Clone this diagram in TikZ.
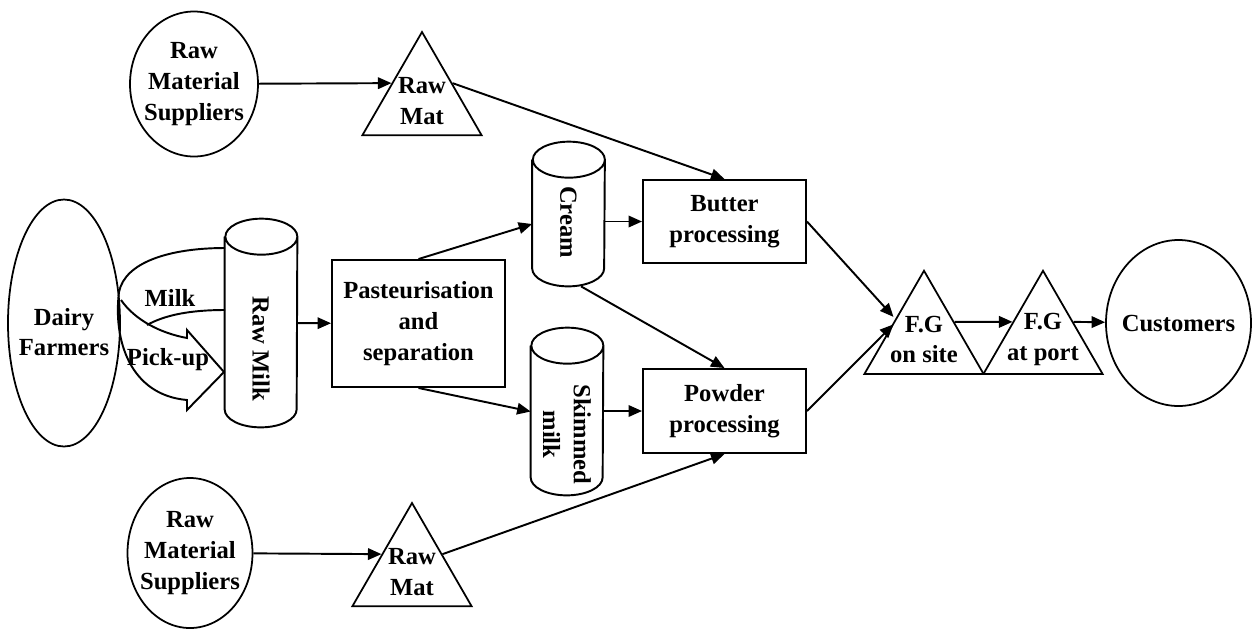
\documentclass[tikz,border=0pt]{standalone}
\usepackage{fontspec}
\setmainfont{Liberation Serif}
\usetikzlibrary{arrows.meta,shapes.geometric,calc}
\tikzset{
  >={Triangle[length=2.7mm,width=2.3mm]},
  lbl/.style={font=\fontsize{14}{17.5}\selectfont\bfseries, align=center, inner sep=0pt},
  party/.style={ellipse,draw,line width=1pt,inner sep=0pt},
  stock/.style={regular polygon,regular polygon sides=3,draw,line width=1pt,inner sep=0pt,minimum size=2.75cm},
  tank/.style={rectangle,inner sep=0pt,minimum width=1.44cm},
  proc/.style={rectangle,draw,line width=1.1pt,lbl},
  tr/.style={->, line width=1.1pt},
  ln/.style={line width=1.1pt}
}
\newcommand{\caprad}{0.36cm}

\begin{document}
\begin{tikzpicture}
    \useasboundingbox (0,0) rectangle (25.08,-12.6);

    % Suppliers and raw material stock
    \node[party, minimum width=2.56cm, minimum height=2.9cm, label={[lbl]center:Raw\\Material\\Suppliers}] (rms1) at (3.88,-1.68) {};
    \node[stock, label={[lbl]center:Raw\\Mat}] (rawmat1) at (8.44,-2.015) {};
    \node[party, minimum width=2.5cm, minimum height=3.0cm, label={[lbl]center:Raw\\Material\\Suppliers}] (rms2) at (3.8,-11.06) {};
    \node[stock, label={[lbl]center:Raw\\Mat}] (rawmat2) at (8.24,-11.435) {};

    % Milk intake
    \node[party, minimum width=2.24cm, minimum height=4.94cm, label={[lbl,yshift=-1.8mm]center:Dairy\\Farmers}] (dairy) at (1.28,-6.46) {};
    \node[tank, minimum height=4.16cm, label={[lbl,yshift=-5.2mm,rotate=-90]center:Raw Milk}] (rawmilk) at (5.22,-6.46) {};

    % Processing
    \node[proc, minimum width=3.46cm, minimum height=2.54cm] (past) at (8.37,-6.47) {Pasteurisation\\and\\separation};
    \node[tank, minimum height=2.88cm, label={[lbl,yshift=-1.6mm,rotate=-90]center:Cream}] (cream) at (11.37,-4.28) {};
    \node[tank, minimum height=3.34cm, label={[lbl,yshift=-4.6mm,rotate=-90]center:Skimmed\\milk}] (skim) at (11.34,-8.23) {};
    \node[proc, minimum width=3.26cm, minimum height=1.66cm] (butter) at (14.49,-4.43) {Butter\\processing};
    \node[proc, minimum width=3.26cm, minimum height=1.68cm] (powder) at (14.49,-8.22) {Powder\\processing};

    % tank outlines
    \foreach \t in {rawmilk,cream,skim}
        \draw[line width=1.1pt] ([yshift=-\caprad]\t.north west) -- ([yshift=\caprad]\t.south west)
            arc[start angle=180, end angle=360, x radius=0.72cm, y radius=\caprad]
            -- ([yshift=-\caprad]\t.north east)
            arc[start angle=0, end angle=360, x radius=0.72cm, y radius=\caprad];

    % Finished goods
    \node[stock, label={[lbl]center:F.G\\on site}] (fgsite) at (18.48,-6.79) {};
    \node[stock, label={[lbl]center:F.G\\at port}] (fgport) at (20.86,-6.79) {};
    \node[party, minimum width=2.9cm, minimum height=3.32cm, label={[lbl]center:Customers}] (cust) at (23.57,-6.46) {};

    % Milk pick-up loop
    \draw[ln, line join=miter] (4.5,-4.96) .. controls (3.4,-4.96) and (2.5,-5.24) .. (2.38,-5.84)
        .. controls (2.26,-6.8) and (2.6,-7.9) .. (3.74,-8.0)
        -- (3.74,-8.2) -- (4.48,-7.44) -- (3.74,-6.6) -- (3.74,-6.76)
        .. controls (3.2,-6.66) and (2.7,-6.4) .. (2.42,-6.0);
    \draw[ln] (2.94,-6.5) .. controls (3.3,-6.3) and (3.8,-6.2) .. (4.5,-6.2);
    \node[lbl] (milk) at (3.4,-5.96) {Milk};
    \node[lbl] (pickup) at (3.36,-7.2) {Pick-up};

    % Flows
    \draw[tr] (rms1) -- (rawmat1.side 1);
    \draw[tr] (rawmat1.side 3) -- (butter.north);
    \draw[tr] (rms2) -- (rawmat2.side 1);
    \draw[tr] (rawmat2.side 3) -- (powder.south);
    \draw[tr] (rawmilk) -- (past);
    \draw[tr] (past.north) -- ([yshift=-2mm]cream.west);
    \draw[tr] (past.south) -- (skim.west);
    \draw[tr] (cream.east |- butter.west) -- (butter.west);
    \draw[tr] (skim.east |- powder.west) -- (powder.west);
    \draw[tr] ([xshift=2.5mm]cream.south) -- (powder.north);
    \draw[tr] (butter.east) -- ([yshift=1mm]fgsite.side 1);
    \draw[tr] (powder.east) -- ([yshift=-0.5mm]fgsite.side 1);
    \draw[tr] (fgsite.side 3) -- (fgport.side 1);
    \draw[tr] (fgport.side 3) -- (cust);
\end{tikzpicture}
\end{document}
